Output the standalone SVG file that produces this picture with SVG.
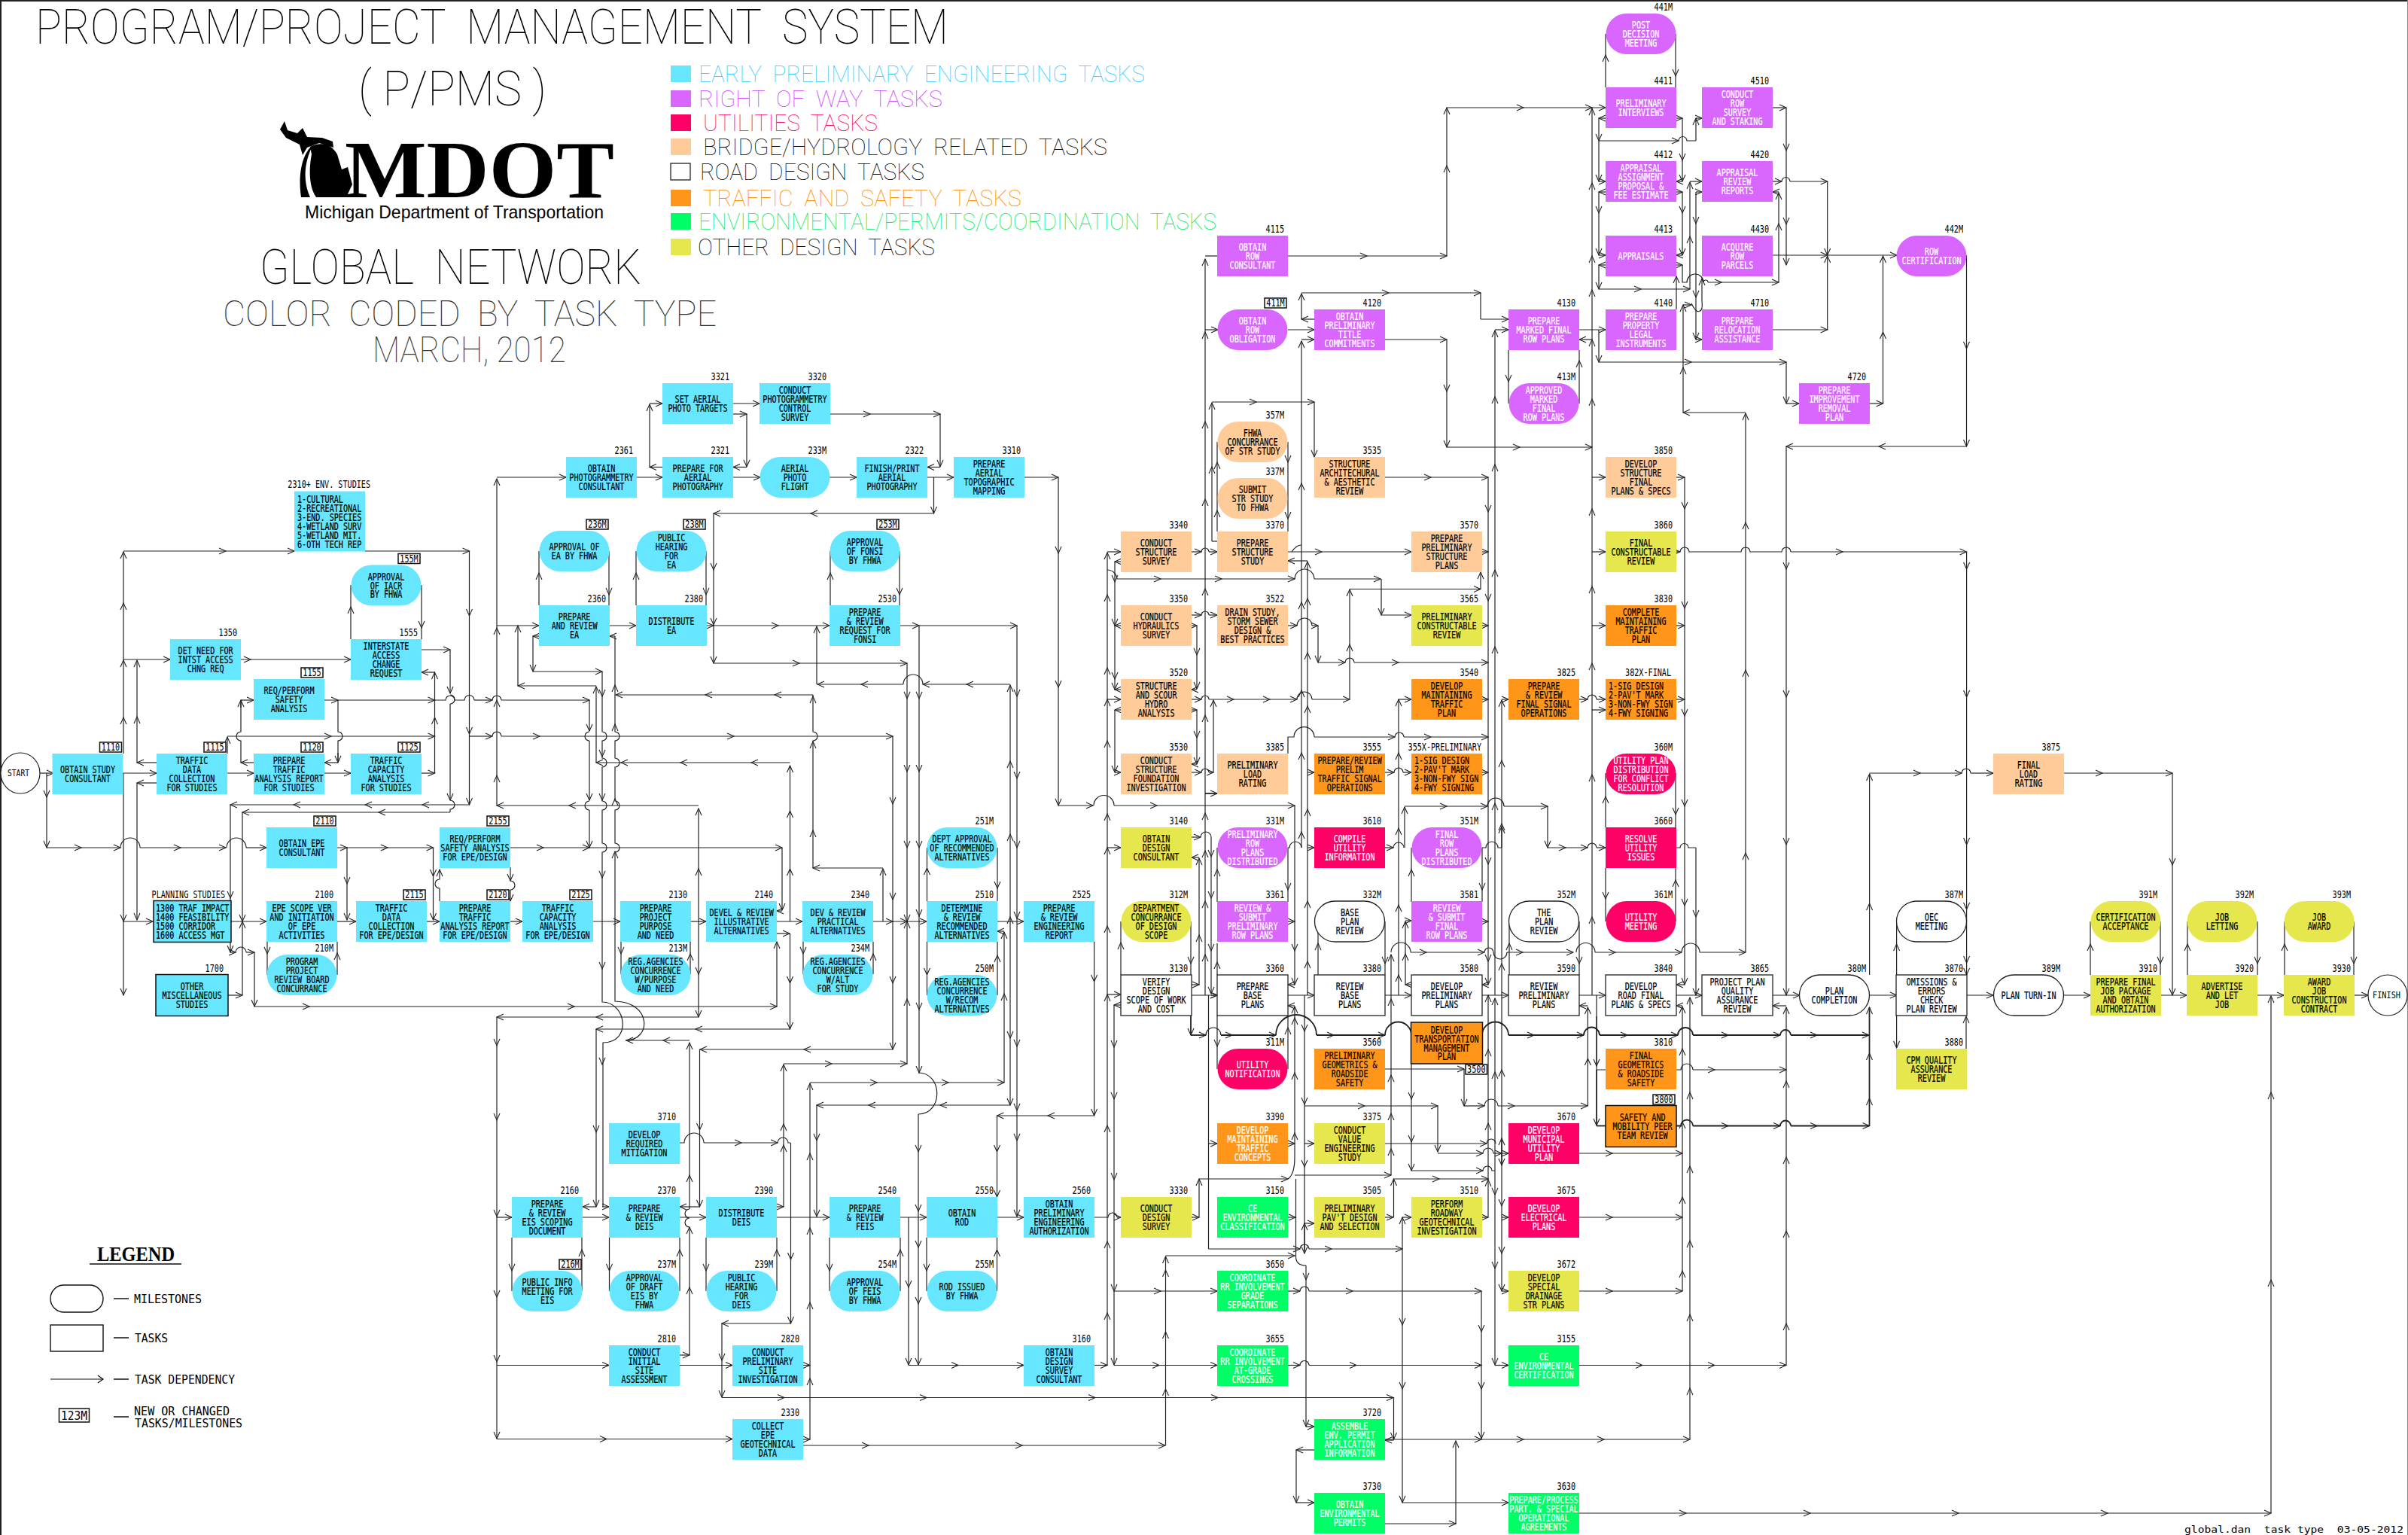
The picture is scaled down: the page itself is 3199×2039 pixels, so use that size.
<svg xmlns="http://www.w3.org/2000/svg" width="3199" height="2039" viewBox="0 0 3199 2039">
<style>
text{font-family:"DejaVu Sans Mono","Liberation Mono",monospace}
.t,.l,.g{font-size:13.5px;transform-box:fill-box;transform:scaleX(.75)}
.t,.g{text-anchor:middle;transform-origin:50% 50%}
.t{fill:#000;stroke:#000;stroke-width:.2}
.w .t{fill:#fff;stroke:#fff}
.l{text-anchor:end;transform-origin:100% 50%;fill:#000;stroke:none}
.g{fill:#000;stroke:none}
.tl{text-anchor:start;transform-origin:0 50%}
.b{fill:#66e6ff}.p{fill:#d966ff}.r{fill:#ff0066}.f{fill:#ffcc99}.o{fill:#ff9619}.e{fill:#00ff66}.y{fill:#e6e64d}
.k{fill:#fff;stroke:#222;stroke-width:1.3}
.d{stroke:#111;stroke-width:1.5}
#c path{fill:none;stroke:#222;stroke-width:1.2;marker-mid:url(#h);marker-end:url(#h)}
#c .n{marker:none}
#c .m{marker-end:none}
#c .v{stroke-width:1.8}
.h{font-family:Roboto,"Liberation Sans",sans-serif;font-weight:100;white-space:pre}
.s{font-size:16px;fill:#000}
</style>
<defs>
<marker id="h" markerUnits="userSpaceOnUse" markerWidth="12" markerHeight="12" refX="10" refY="6" orient="auto"><path d="M1 2L10 6L1 10" fill="none" stroke="#222" stroke-width="1.1"/></marker>
<rect id="r" x="-47" y="-27" width="94" height="54"/>
<rect id="m" x="-46.5" y="-27" width="93" height="54" rx="27" ry="27"/>
<rect id="g" x="16" y="-42" width="29" height="13" fill="#fff" stroke="#111" stroke-width="1.5"/>
</defs>
<rect width="3199" height="2039" fill="#fff"/>
<path d="M0 1H3199M1 0V2039" stroke="#222" stroke-width="2" fill="none"/><path d="M3198.500 0V2039" stroke="#888" fill="none"/>

<g id="title">
<text class="h" x="47" y="58" font-size="65" textLength="1213" lengthAdjust="spacingAndGlyphs">PROGRAM/PROJECT  MANAGEMENT  SYSTEM</text>
<text class="h" x="476" y="140" font-size="65" textLength="250" lengthAdjust="spacingAndGlyphs">( P/PMS )</text>
<path d="M378 161L382 173L395 177L402 170L408 182L428 183L442 188L443 196L424 190L408 196L402 206L398 192L380 183L372 172Z" fill="#000"/>
<path d="M412 195C425 188 440 190 448 205L454 225L462 222L468 245L460 262H420C408 245 412 215 414 205Z" fill="#000"/>
<path d="M400 262C396 235 400 205 416 192C404 215 402 240 412 262Z" fill="#000"/>
<text x="458" y="262" font-size="108" font-weight="700" textLength="358" lengthAdjust="spacingAndGlyphs" style="font-family:'Liberation Serif',serif">MDOT</text>
<text x="405" y="290" font-size="24" textLength="397" lengthAdjust="spacingAndGlyphs" style="font-family:'Liberation Sans',sans-serif">Michigan  Department of Transportation</text>
<text class="h" x="345" y="377" font-size="65" textLength="507" lengthAdjust="spacingAndGlyphs">GLOBAL  NETWORK</text>
<text class="h" x="296" y="433" font-size="48" textLength="656" lengthAdjust="spacingAndGlyphs" fill="#333">COLOR  CODED  BY  TASK  TYPE</text>
<text class="h" x="495" y="481" font-size="48" textLength="257" lengthAdjust="spacingAndGlyphs" fill="#333">MARCH, 2012</text>
</g>
<g id="colorkey">
<rect class="b" x="891" y="87" width="27" height="22"/><text class="h" x="928" y="109" font-size="31" textLength="593" lengthAdjust="spacingAndGlyphs" fill="#33ccff">EARLY  PRELIMINARY  ENGINEERING  TASKS</text>
<rect class="p" x="891" y="120" width="27" height="22"/><text class="h" x="928" y="142" font-size="31" textLength="324" lengthAdjust="spacingAndGlyphs" fill="#cc44ff">RIGHT  OF  WAY  TASKS</text>
<rect class="r" x="891" y="152" width="27" height="22"/><text class="h" x="934" y="174" font-size="31" textLength="232" lengthAdjust="spacingAndGlyphs" fill="#ff0066">UTILITIES  TASKS</text>
<rect class="f" x="891" y="184" width="27" height="22"/><text class="h" x="934" y="206" font-size="31" textLength="537" lengthAdjust="spacingAndGlyphs">BRIDGE/HYDROLOGY  RELATED  TASKS</text>
<rect class="k" x="891" y="217" width="26" height="22"/><text class="h" x="930" y="239" font-size="31" textLength="298" lengthAdjust="spacingAndGlyphs">ROAD  DESIGN  TASKS</text>
<rect class="o" x="891" y="252" width="27" height="22"/><text class="h" x="934" y="274" font-size="31" textLength="423" lengthAdjust="spacingAndGlyphs" fill="#ff8c00">TRAFFIC  AND  SAFETY  TASKS</text>
<rect class="e" x="891" y="283" width="27" height="22"/><text class="h" x="928" y="305" font-size="31" textLength="688" lengthAdjust="spacingAndGlyphs" fill="#00ee60">ENVIRONMENTAL/PERMITS/COORDINATION  TASKS</text>
<rect class="y" x="891" y="317" width="27" height="22"/><text class="h" x="927" y="339" font-size="31" textLength="315" lengthAdjust="spacingAndGlyphs">OTHER  DESIGN  TASKS</text>
</g>
<g id="legend">
<text x="129" y="1675" font-size="27" font-weight="700" textLength="103" lengthAdjust="spacingAndGlyphs" style="font-family:'Liberation Serif',serif">LEGEND</text>
<path d="M119 1679H241M151 1725H171M151 1777H171M151 1832H171M151 1882H171" stroke="#111" stroke-width="1.3" fill="none"/>
<rect x="67" y="1707" width="70" height="36" rx="18" fill="#fff" stroke="#111" stroke-width="1.4"/>
<rect x="67" y="1760" width="70" height="35" fill="#fff" stroke="#111" stroke-width="1.4"/>
<path d="M67 1832H137M130 1827L137 1832L130 1837" stroke="#111" stroke-width="1.2" fill="none"/>
<rect x="78.500" y="1871" width="40" height="18" fill="#fff" stroke="#111" stroke-width="1.5"/>
<text class="s" x="81" y="1886" textLength="35" lengthAdjust="spacingAndGlyphs">123M</text>
<text class="s" x="178" y="1731" textLength="90" lengthAdjust="spacingAndGlyphs">MILESTONES</text>
<text class="s" x="179" y="1783" textLength="44" lengthAdjust="spacingAndGlyphs">TASKS</text>
<text class="s" x="179" y="1838" textLength="133" lengthAdjust="spacingAndGlyphs">TASK DEPENDENCY</text>
<text class="s" x="178" y="1880" textLength="127" lengthAdjust="spacingAndGlyphs">NEW OR CHANGED</text>
<text class="s" x="179" y="1896" textLength="143" lengthAdjust="spacingAndGlyphs">TASKS/MILESTONES</text>
<text x="2902" y="2036" font-size="13" textLength="291" lengthAdjust="spacingAndGlyphs" style="white-space:pre">global.dan  task type  03-05-2012</text>
</g>

<g id="c">
<path d="M53 1027H71"/><path d="M62 1027V1059V1126"/><path d="M62 1126H108H160"/><path class="n" d="M160 1126a13 13 0 0 1 26 0"/><path d="M186 1126H240H300"/><path class="n" d="M301 1126a13 13 0 0 1 26 0"/><path d="M327 1126H354"/>
<path d="M163 1027H208"/><path d="M164 1001V953V877V801V733"/><path d="M164 732H300H391"/><path d="M485 732H623.5"/><path d="M623.5 732V818V975V1069"/><path d="M164 1027V1224V1322"/><path d="M164 876H226"/><path d="M320 876H333H466"/><path d="M182 1013V952V877"/><path d="M208 1013H182"/><path d="M208 1040H182"/><path d="M182 1040V1222"/><path d="M164 1224H203"/><path d="M306 1224H354"/><path d="M448 1224H473"/><path d="M567 1224H584"/><path d="M678 1224H694"/>
<path d="M302 1027H337"/><path d="M431 1027H466"/><path d="M560 1027H577.500"/><path d="M302 1001V979"/><path d="M302 978H440H577.500"/>
<path d="M337 1013H320"/><path class="n" d="M320 1013V984a6 6 0 0 1 0-12V930"/><path d="M320 940V930"/><path d="M320 930H337"/><path d="M431 930H449H577.500"/><path class="n" d="M449 930V972a6 6 0 0 1 0 12V1013"/><path d="M449 1000V1013"/><path d="M449 1013H431"/>
<path d="M577.500 1027V953V893"/><path d="M577.500 893H560"/><path d="M560 863H598"/><path d="M598 863V921"/><path class="n" d="M598 923a6 6 0 0 1 0 12"/><path d="M598 935V1063"/><path class="n" d="M598 1063a6 6 0 0 1 0 12V1079"/><path d="M598 1079H503H322"/><path d="M322 1079V1224"/><path d="M303 1322H322"/><path d="M322 1322V1224"/>
<path class="n" d="M577 930H592a6 6 0 0 1 12 0H617a6.500 6.500 0 0 1 13 0"/><path d="M630 930H654"/><path class="n" d="M654 930a6 6 0 0 1 12 0"/><path d="M666 930H783"/><path d="M783 930V971"/><path class="n" d="M783 972a6 6 0 0 0 0 12"/><path d="M783 984V1063"/><path class="n" d="M783 1064a6 6 0 0 0 0 12"/><path d="M783 1076V1126"/>
<path d="M623.500 978H654"/><path class="n" d="M654 978a6 6 0 0 1 12 0"/><path d="M666 978H717H975H1186"/><path d="M1186 978V1068V1195V1306V1394"/><path d="M1186 1394H1068H930"/><path d="M929.500 1394V1501V1603"/><path d="M929.500 1603H903"/>
<path d="M928 1070H756H660"/><path d="M660 1070V1030V930V834V636"/><path d="M660 634H752"/><path d="M660 831H716"/><path d="M792 1013V912"/><path d="M792 911H688"/><path d="M688 911V831"/><path d="M716 845H708"/><path d="M708 845V892"/><path d="M708 892H800"/>
<path class="n" d="M800 892V972a6 6 0 0 1 0 12V1007a6 6 0 0 1 0 12V1064a6 6 0 0 1 0 12V1120a6 6 0 0 1 0 12V1331C832 1331 840 1385 801 1385V1603"/><path d="M800 924V925"/><path d="M800 1004V1005"/><path d="M800 1062V1063"/><path d="M800 1165V1166"/><path d="M800 1286V1287"/><path d="M800 1413V1414"/><path d="M800 1603H809"/>
<path d="M916 1800V1710V1630"/><path class="n" d="M916 1630a6 6 0 0 1 0-12a6 6 0 0 1 0-12"/><path d="M916 1606V1561V1385"/><path d="M916 1382H881H832"/><path class="n" d="M831 1382C866 1382 866 1331 817 1330V1132a6 6 0 0 0 0-12V1076a6 6 0 0 0 0-12V1019a6 6 0 0 0 0-12V984a6 6 0 0 0 0-12V845"/><path d="M817 1132V1131"/><path d="M817 1062V1061"/><path d="M817 963V962"/><path d="M817 911V910"/><path d="M817 845H810"/>
<path d="M1080 923H1029H937H818"/><path d="M1173 1224V1154"/><path d="M1173 1153H1080"/><path class="n" d="M1080 1153V984a6 6 0 0 0 0-12V923"/><path d="M1080 1104V1103"/><path d="M1080 986V985"/><path d="M1080 926V925"/>
<path d="M1049.500 1224V1154V1077V1017"/><path d="M1049.500 1013H998H904H825H792"/><path d="M1032 1240H1049"/><path d="M1049.500 1240V1306V1367"/><path d="M1049.500 1367H924H792"/><path d="M792 1367V1504V1603"/><path d="M792 1603H774"/>
<path d="M928 1224V1154V1074"/><path d="M928 1224V1294V1351"/><path d="M928 1351H792H660"/><path d="M306 1265H313"/><path class="n" d="M313 1265a7 7 0 0 1 14 0"/><path d="M327 1265H338"/><path d="M338 1265V1337"/><path d="M338 1337H411H763H1032"/><path d="M1032 1337V1251"/><path d="M623.500 1069H561H485H390H306"/><path d="M306 1069V1193V1265"/>
<path d="M448 1126H461H515H575.500"/><path d="M461 1126V1174V1222"/><path d="M575.500 1126V1164V1222"/><path class="n" d="M584 1197V1180a6 6 0 0 1 0-12V1156"/><path d="M584 1158V1155"/><path d="M678 1152V1170"/><path class="n" d="M678 1170a6 6 0 0 1 0 12"/><path d="M678 1182V1197"/><path d="M678 1126H722H783"/><path d="M783 1126H1039"/><path d="M1039 1126V1209"/><path d="M1039 1210H1032"/>
<path d="M788 1224H824"/><path d="M918 1224H938"/><path d="M1032 1224H1066"/><path d="M1160 1224H1186H1205H1231"/><path d="M1325 1224H1360"/>
<path d="M846 634H880"/><path d="M974 634H1010"/><path d="M1102 634H1138"/><path d="M1232 634H1267"/><path d="M974 536H1009"/><path d="M880 620.500H863"/><path d="M863 620.500V537"/><path d="M863 536H880"/><path d="M974 550H992"/><path d="M992 550V620"/><path d="M992 620.500H974"/><path d="M1103 550H1156H1249"/><path d="M1249 550V620"/><path d="M1249 620.500H1232"/>
<path d="M1240.500 634V682"/><path d="M1240.500 682H1077H948"/><path d="M948 682V757V830V881"/><path d="M948 881H1062H1205"/><path d="M1205 881V928V1025V1126V1224"/><path d="M1205 1413V1327V1224"/>
<path d="M810 831H845"/><path d="M939 831H948H1034H1102"/><path d="M1196 831H1221H1351"/><path d="M1221 831V928V1025V1126V1217V1341V1425"/><path class="n" d="M1220 1425C1253 1425 1253 1480 1220 1480"/><path d="M1220 1480V1530V1609V1657V1732V1813"/><path d="M1207 1813.500H1273H1360"/><path d="M1207 1617V1710V1813"/><path d="M1351 831V925V1034V1126V1220V1390V1475V1515V1616"/>
<path d="M1342 909H1284H1226"/><path class="n" d="M1226 909a13 13 0 0 0-26 0"/><path d="M1200 909H1144H1086"/><path d="M1085 909V832"/><path d="M1342 1224V1218V1108V1011V910"/><path d="M1342 1224V1379V1468"/><path d="M1342 1468H1249H1154H1085"/><path d="M1085 1468V1515V1616"/><path d="M1334 1438V1320V1238"/><path d="M1334 1237H1325"/>
<path d="M1076 1438H1165H1260H1334"/><path d="M1076 1912V1831V1730V1631V1532V1439"/><path d="M1067 1912H1076"/><path d="M1067 1813.500H1076"/><path d="M1041 1603V1521V1493V1414"/><path d="M1032 1603H1041"/><path d="M1041 1413H1105H1205"/>
<path class="n" d="M903 1518H909a13 13 0 0 1 26 0"/><path d="M935 1518H985H1033"/><path class="n" d="M1033 1518a7 7 0 0 1 14 0H1050"/><path d="M1050.500 1518V1673V1758"/><path d="M1050.500 1758H959"/><path d="M959 1758V1807V1856"/><path d="M959 1856.500H1042H1231H1455H1618H1851"/><path d="M1851.500 1856V1912"/><path d="M1851.500 1913H1840"/><path d="M903 1813.500H973"/><path d="M903 1800H916"/>
<path d="M660 1351V1389V1488V1616V1723V1809V1911"/><path d="M660 1617H680"/><path d="M774 1617H809"/><path d="M903 1617H938"/><path d="M1032 1617H1102"/><path d="M1196 1617H1231"/><path d="M1324 1617H1360"/><path class="n" d="M1454 1617H1472a6 6 0 0 1 12 0"/><path d="M1484 1617H1489"/><path d="M660 1813.500H809"/><path d="M660 1911.500H806H973"/>
<path d="M1453.600 1251V1304V1482"/><path d="M1453.600 1482H1392H1324.500"/><path d="M1324.500 1482V1530V1590"/>
<path d="M1361 634H1406"/><path d="M1406 634V735V913V1070"/><path d="M1406 1070H1452"/><path class="n" d="M1453 1070a13 13 0 0 1 27 0"/><path d="M1480 1070H1537H1720"/><path d="M1720 1070V1263V1308"/><path d="M1720 1308H1711"/>

<path class="m" d="M466 849V806V777"/><path class="m" d="M560 777V834V849"/><path class="m" d="M716 804V761V732"/><path class="m" d="M809 732V790V804"/><path class="m" d="M845 804V761V732"/><path class="m" d="M938 732V790V804"/><path class="m" d="M1103 804V761V732"/><path class="m" d="M1195 732V790V804"/><path class="m" d="M825 1251V1267V1294"/><path class="m" d="M917 1294V1267V1251"/><path class="m" d="M1067 1251V1267V1294"/><path class="m" d="M1160 1294V1267V1251"/><path class="m" d="M355 1251V1267V1295"/><path class="m" d="M448 1295V1266V1251"/><path class="m" d="M1231.500 1197V1153V1126"/><path class="m" d="M1325 1126V1180V1197"/><path class="m" d="M1231.500 1251V1295V1322"/><path class="m" d="M1325 1322V1269V1251"/>
<path class="m" d="M680 1644V1688V1715"/><path class="m" d="M773 1715V1660V1644"/><path class="m" d="M809.500 1644V1688V1715"/><path class="m" d="M903 1715V1660V1644"/><path class="m" d="M938 1644V1688V1715"/><path class="m" d="M1032 1715V1660V1644"/><path class="m" d="M1102 1644V1688V1715"/><path class="m" d="M1196 1715V1660V1644"/><path class="m" d="M1231 1644V1688V1715"/><path class="m" d="M1324.500 1715V1660V1644"/>
<path class="m" d="M1617 706V678V614V587"/><path class="m" d="M1711 587V614V689V706"/><path class="m" d="M1617 1198V1155V1126"/><path class="m" d="M1711 1126V1182V1198"/><path class="m" d="M1875 1198V1155V1126"/><path class="m" d="M1969 1126V1182V1198"/><path class="m" d="M1617 1295V1278V1253"/><path class="m" d="M1617 1349V1390V1420"/><path class="m" d="M1711 1420V1365V1349"/><path class="m" d="M1751 1295V1253V1224"/><path class="m" d="M1840 1224V1280V1295"/><path class="m" d="M2005 1295V1253V1224"/><path class="m" d="M2098 1224V1280V1295"/><path class="m" d="M1489 1295V1252V1224"/><path class="m" d="M1582 1224V1280V1295"/>
<path class="m" d="M2133 1099V1058V1027"/><path class="m" d="M2226 1027V1082V1099"/><path class="m" d="M2133 1153V1194V1224"/><path class="m" d="M2226 1224V1169V1153"/><path class="m" d="M2004 465V507V536"/><path class="m" d="M2098 536V479V465"/><path class="m" d="M2133 116V73V45"/><path class="m" d="M2226 45V101V116"/><path class="m" d="M2519.600 1295V1254V1224"/><path d="M2519.600 1349V1392"/><path d="M2612 1393V1350"/><path class="m" d="M2777 1295V1254V1224"/><path class="m" d="M2870 1224V1280V1295"/><path class="m" d="M2906 1295V1254V1224"/><path class="m" d="M2999 1224V1280V1295"/><path class="m" d="M3035 1295V1254V1224"/><path class="m" d="M3127 1224V1280V1295"/>

<path d="M1471 1813.500V1744V1649V1495V1321V1230V1126V1081V984V929V887V790V734"/><path d="M1454 1813.500H1471"/><path d="M1471 733H1489"/><path d="M1471 929H1489"/><path d="M1471 1126H1489"/><path d="M1471 1321H1489"/>
<path d="M1489 746H1481"/><path d="M1481 746V773V831V902V916"/><path d="M1489 916H1481"/><path d="M1489 831H1481"/><path d="M1489 943H1481"/><path d="M1481 943V1026"/><path d="M1481 1026H1489"/>
<path class="n" d="M1471 757a13 13 0 0 1 13 12"/><path d="M1484 769H1542H1623H1720"/><path class="n" d="M1720 769a13 13 0 0 1 26 0"/><path d="M1746 769H1834"/><path d="M1835 769V817"/><path d="M1835 817H1875"/>
<path d="M1583 733H1596"/><path class="n" d="M1596 733a5 5 0 0 1 10 0"/><path d="M1606 733H1617"/><path d="M1601 1322V1268V1197V1130V1080V950V782V663V560V441V344"/><path class="n" d="M1601 340H1617"/><path d="M1601 438H1618"/><path class="v" d="M1601 1054H1617"/>
<path class="n" d="M1617 719H1610"/><path d="M1610 719V620V535"/><path d="M1610 534H1669H1746"/><path d="M1746 534V607"/><path d="M1746 424H1729"/><path d="M1729 424V390"/><path d="M1729 389H1845H1967"/><path class="n" d="M1967 389V424"/><path d="M1967 424H2004"/><path d="M1711 438H1746"/><path d="M1729 451H1746"/>
<path class="n" d="M1711 1126H1713a8 8 0 0 1 16 0"/><path d="M1729 1126V1105V1000V917V800V642V453"/><path class="n" d="M1716 733Q1722 724 1729 724"/><path d="M1711 733H1756H1875"/><path d="M1737 745H1711"/><path d="M1737 1322V1277V1197V1075V938V867V795V746"/>
<path d="M1711 831H1723"/><path class="n" d="M1723 831a10 10 0 0 1 20 0"/><path d="M1743 831H1751"/><path d="M1751 831V880"/><path d="M1751 880H1787"/><path class="n" d="M1787 880a6 6 0 0 1 12 0"/><path d="M1799 880H1858H1977"/><path d="M1793 929V856V783"/><path d="M1793 782.500H1967"/><path d="M1967 782V760"/>
<path d="M1583 929H1596"/><path class="n" d="M1596 929a5 5 0 0 1 10 0"/><path d="M1606 929H1639H1687H1723"/><path class="n" d="M1723 929a10 10 0 0 1 20 0"/><path d="M1743 929H1793"/><path d="M1583 817H1596"/><path class="n" d="M1596 817a5 5 0 0 1 10 0"/><path d="M1606 817H1617"/>
<path d="M1583 831H1590"/><path d="M1590 831V870V915"/><path d="M1590 916H1583"/><path d="M1583 943H1590"/><path d="M1590 943V980V1015"/><path d="M1590 1015H1583"/><path d="M1583 1026H1596"/><path class="n" d="M1596 1026a5 5 0 0 1 10 0"/><path d="M1606 1026H1612"/><path d="M1612 1026V930"/>
<path class="n" d="M1711 1001V979H1719a13 13 0 0 1 27 0"/><path d="M1746 979H1853"/><path class="n" d="M1853 979a6 6 0 0 1 12 0"/><path d="M1865 979H1901H1977"/><path d="M1737 1026H1746"/><path d="M1840 1026H1852"/><path class="n" d="M1852 1026a6 6 0 0 1 12 0"/><path d="M1864 1026H1875"/><path d="M1858 1322V1295V1202V1100V1000V929"/><path d="M1858 929H1875"/>
<path d="M1840 634H1901H1977"/><path d="M1977 634V680V798V1148V1277V1308"/><path d="M1977 1308H1969"/><path d="M1969 733H1977"/><path d="M1969 831H1977"/><path d="M1969 929H1977"/><path d="M1969 1026H1977"/><path d="M1977 1617V1567V1492V1394V1322"/><path d="M1969 1617H1977"/>
<path d="M1986 1322V1067V859V757V617V527V439"/><path d="M1986 438H2004"/><path d="M1986 1430V1424V1326"/><path d="M1986 1430V1587V1685V1813"/><path d="M1986 1813.500H2004"/><path d="M1995 1512V1421V1280V1094V1010V930"/><path d="M1995 929H2004"/><path class="v" d="M1995 1530V1512"/><path class="v" d="M1995 1530V1548"/><path d="M1995 1548V1602V1665V1715"/><path d="M1995 1715H2004"/><path d="M1995 1617H2004"/><path d="M1995 1532H2004"/>
<path d="M1866 1126V1072"/><path d="M1866 1071H1922H1976"/><path class="n" d="M1976 1071a11 11 0 0 1 22 0"/><path d="M1998 1071H2056"/><path d="M2056 1071V1126"/><path d="M2056 1126H2080H2109"/><path class="n" d="M2109 1126a6 6 0 0 1 12 0"/><path d="M2121 1126H2133"/><path d="M1840 1126H1851"/><path class="n" d="M1851 1126a7 7 0 0 1 14 0"/><path class="n" d="M1969 1126H1974a8 8 0 0 1 16 0H1995"/><path d="M1995 1126V1098"/><path d="M1737 1126H1746"/>
<path d="M1711 340H1816H1922"/><path d="M1922 340V220V143"/><path d="M1922 143H2024H2115H2133"/><path d="M1840 451H1922"/><path d="M1922 451V520V594"/><path d="M1922 594H2019H2115"/><path d="M2115 1322V1218V1029V881V779V676V530V451V385V340V243V144"/><path d="M2115 451H2098"/><path d="M2098 438H2133"/><path d="M2115 634H2133"/><path d="M2115 733H2133"/><path d="M2115 831H2133"/><path d="M2098 929H2109"/><path class="n" d="M2109 929a6 6 0 0 1 12 0"/><path d="M2121 929H2133"/><path d="M2115 943H2133"/>
<path d="M2098 1322H2133"/><path d="M1969 1322H2004"/><path d="M1840 1322H1875"/><path d="M1711 1322H1746"/><path d="M1583 1322H1617"/>

<path d="M2133 157H2124"/><path d="M2124 157V187"/><path d="M2124 187H2230"/><path class="n" d="M2230 187a5.500 5.500 0 0 1 11 0H2253"/><path d="M2253 187V157"/><path d="M2253 157H2261"/><path d="M2124 187V241"/><path d="M2124 241H2133"/><path d="M2133 255H2124"/><path d="M2124 255V283V339"/><path d="M2124 339H2133"/><path d="M2133 352H2124"/><path d="M2124 352V384"/><path d="M2124 384H2180H2245"/><path d="M2245 384V314V242"/><path d="M2245 241H2261"/>
<path d="M2124 438V481"/><path d="M2124 481H2247H2373"/><path d="M2373 481V536"/><path d="M2373 536H2390"/><path d="M2484 536H2501.500"/><path d="M2501.500 536V441V340"/><path d="M2355 339H2427.700H2520"/><path d="M2355 241H2367"/><path class="n" d="M2367 241a5.500 5.500 0 0 1 11 0"/><path d="M2378 241H2427.700"/><path d="M2427.700 241V339"/><path d="M2355 438H2427.700"/><path d="M2427.700 438V340"/>
<path d="M2355 143H2373"/><path d="M2373 143V200V298V352"/><path d="M2363 255H2355"/><path d="M2363 375V297V256"/><path d="M2253 255V297V395V451"/><path d="M2253 255H2261"/><path d="M2253 451H2261"/>
<path d="M2227 157H2235"/><path d="M2235 157V213V241"/><path d="M2235 241H2227"/><path d="M2227 255H2235"/><path d="M2235 255V283V339"/><path d="M2235 339H2227"/><path d="M2227 352H2235"/><path class="n" d="M2235 352V375H2241a11 11 0 0 1 22 0a3 3 0 0 1 6 0"/><path d="M2269 375H2287H2363"/><path d="M2227 411V367"/>
<path d="M2236 548V488V405"/><path d="M2236 405H2247"/><path class="n" d="M2247 403C2255 420 2263 415 2261 400"/><path d="M2261 400V370"/><path d="M2319 548H2236"/><path d="M2319 1265V1133V890V694V549"/>
<path d="M2612.500 339V463V593"/><path d="M2612.500 593H2496H2373"/><path d="M2373 593V756V926V1122V1322"/><path d="M2227 733H2232"/><path class="n" d="M2232 733a6 6 0 0 1 12 0H2313a6 6 0 0 1 12 0H2367a6 6 0 0 1 12 0"/><path d="M2379 733H2448H2612.600"/><path d="M2612.600 733V756V926V1122V1208V1279V1295"/>
<path d="M2483.600 1295V1200V1028"/><path d="M2483.600 1027H2551H2606"/><path class="n" d="M2606 1027a6 6 0 0 1 12 0"/><path d="M2618 1027H2648"/><path d="M2742 1027H2793H2886"/><path d="M2886 1027V1149V1322"/>
<path d="M2227 1322H2261"/><path d="M2355 1322H2391"/><path d="M2484 1322H2520"/><path d="M2612.500 1322H2648"/><path d="M2741 1322H2777"/><path d="M2871 1322H2905"/><path d="M2999 1322H3034"/><path d="M3128 1322H3146"/>
<path d="M2098 2010H2240H2405H2602H2800H3017"/><path d="M3017 2010V1700V1451V1323"/><path d="M2109.400 1469V1406V1338"/><path d="M2109.400 1336H2098"/>
<path d="M2227 634H2238"/><path d="M2238 634V676V808V951V1071V1203V1308"/><path d="M2238 1308H2227"/><path d="M2227 831H2238"/><path d="M2227 929H2238"/><path class="n" d="M2227 1126H2232a5.500 5.500 0 0 1 11 0H2253"/><path d="M2253 1126V1218V1322"/>
<path class="n" d="M2121 1322V1421H2133"/><path d="M2121 1350V1416"/><path class="v" d="M2121 1421V1495"/><path class="n v" d="M2121 1495.500H2133"/>
<path class="n" d="M2227 1421H2233a8 8 0 0 1 16 0"/><path d="M2249 1421H2278H2373"/><path class="n v" d="M2227 1495.500H2233a8 8 0 0 1 16 0"/><path class="v" d="M2249 1495.500H2296H2365"/><path class="n v" d="M2365 1495.500a7 7 0 0 1 14 0"/><path class="v" d="M2379 1495.500H2414H2483.500"/><path class="v" d="M2483.500 1495.500V1459V1399V1338"/>
<path d="M2098 1532H2142H2235"/><path d="M2098 1617H2142H2235"/><path d="M2098 1715H2142H2235"/><path d="M2235 1715V1688V1590V1490V1393V1337"/><path d="M2235 1336H2227"/><path d="M1968 1912H2024H2131H2245"/><path d="M2245 1912V1844V1746V1648V1549V1451V1325"/><path d="M2098 1813.500H2182H2278H2373"/><path d="M2373 1813.500V1758V1635V1537V1436V1338"/><path d="M2373 1336H2355"/>

<path d="M1848 1561V1526V1479V1428V1327V1268"/><path class="n" d="M1848 1265a13 13 0 0 1 26 0"/><path d="M1874 1265H1895H1972"/><path class="n" d="M1972 1265a6 6 0 0 1 12 0a9 9 0 0 0 18 0"/><path d="M2002 1265H2023H2090"/><path class="n" d="M2094 1265a12.500 12.500 0 0 1 25 0"/><path d="M2119 1265H2146H2234"/><path class="n" d="M2234 1265a12 12 0 0 1 24 0"/><path d="M2258 1265H2319"/>
<path class="v" d="M1582 1349V1375"/><path class="v" d="M1582 1375H1602"/><path class="n" d="M1602 1375a10 10 0 0 1 20 0"/><path class="v" d="M1622 1375H1637H1695"/><path class="n v" d="M1695 1375a27 27 0 0 1 54 0"/><path class="v" d="M1749 1375H1772H1840"/><path class="n v" d="M1840 1375a17.500 17.500 0 0 1 35 0"/><path class="n v" d="M1969 1375a17.500 17.500 0 0 1 35 0"/><path class="v" d="M2004 1375H2038H2104"/><path class="n v" d="M2104 1375a10.500 10.500 0 0 1 21 0"/><path class="v" d="M2125 1375H2162H2229"/><path class="n v" d="M2229 1375a10 10 0 0 1 20 0"/><path class="v" d="M2249 1375H2296H2365"/><path class="n v" d="M2365 1375a7 7 0 0 1 14 0"/><path class="v" d="M2379 1375H2414H2483"/>
<path d="M1840 1420H1945"/><path d="M1945 1420V1469"/><path d="M1945 1469H1972"/><path class="n" d="M1972 1469a9 9 0 0 1 18 0"/><path d="M1990 1469H2012H2109"/><path d="M1875 1413V1460V1517V1555"/><path d="M1875 1555H1970"/><path class="n" d="M1970 1555a6 6 0 0 1 12 0H1986"/><path d="M1851.500 1617V1566"/><path d="M1851.500 1566H1912H1977"/><path d="M1840 1617H1851"/>
<path d="M1840 1519H1975"/><path class="n" d="M1975 1519a6 6 0 0 1 12 0"/><path d="M1733 1469H1813H1910"/><path d="M1910 1469V1530"/><path d="M1910 1532H1970"/><path class="n" d="M1970 1532a7 7 0 0 1 14 0"/><path d="M1984 1532H1995"/><path d="M1733 1322V1370V1467V1550V1665"/>
<path d="M1583 1112H1595"/><path class="n" d="M1595 1112a7 7 0 0 1 14 0"/><path d="M1609 1112V1138V1193V1263V1320"/><path d="M1609 1322H1617"/><path d="M1593 1308V1242V1140"/><path d="M1583 1308H1593"/><path d="M1593 1139H1583"/><path class="n" d="M1605.500 1322V1659"/><path d="M1605.500 1659H1727"/><path class="n" d="M1727 1659a6 6 0 0 1 12 0"/><path d="M1739 1659H1769H1863"/><path d="M1863 1659V1760V1845V1996"/><path d="M1863 1996H2004"/><path d="M1863 1659V1617"/><path d="M1863 1617H1875"/>
<path d="M1583 1617H1593"/><path d="M1593 1617V1566"/><path d="M1593 1566H1711"/><path class="n" d="M1711 1566Q1720 1560 1720 1537"/><path d="M1720 1537V1505V1425V1352V1337"/><path d="M1720 1336H1711"/><path d="M1720 1561H1848"/><path d="M1711 1519H1720"/><path d="M1711 1224H1720"/><path d="M1733 1519H1746"/><path d="M1605 1519H1617"/><path d="M1711 1617H1721"/>
<path class="n" d="M1721.500 1566V1670Q1722 1681 1735 1681"/><path d="M1735 1681V1700V1895"/><path d="M1735 1895H1746"/><path d="M1733 1662V1625"/><path d="M1733 1625H1746"/><path d="M1480 1335V1391V1460V1567V1715V1813"/><path d="M1489 1335H1480"/><path d="M1480 1715H1542H1617"/><path d="M1480 1813.500H1540H1617"/><path d="M1711 1715H1727"/><path class="n" d="M1727 1715a6 6 0 0 1 12 0"/><path d="M1739 1715H1797H1968"/><path d="M1711 1813.500H1727"/><path class="n" d="M1727 1813.500a6 6 0 0 1 12 0"/><path d="M1739 1813.500H1802H1968"/><path d="M1968 1715V1769V1845V1911"/>
<path d="M1067 1920H1154H1358H1548"/><path d="M1548.500 1920V1845V1769V1687V1669"/><path d="M1548.500 1668H1720"/><path d="M1840 1912H1968"/><path d="M1746 1926H1722"/><path d="M1722 1926V1996"/><path d="M1722 1996H1746"/><path d="M1840 2024H1934"/><path d="M1934 2024V1914"/>
<path d="M1867 1308V1267V1224"/><path d="M1867 1223H1875"/><path d="M1875 1308H1867"/><path d="M1969 1224H1977"/>
</g>

<g id="nodes">
<g id="n1110" class="b" transform="translate(116.500 1028)"><use href="#r"/><use href="#g"/><text class="g" x="30.500" y="-31">1110</text><text class="t" y="-1">OBTAIN STUDY<tspan x="0" dy="12">CONSULTANT</tspan></text></g>
<g id="n2310" class="b" transform="translate(438 692.600)"><rect x="-47" y="-40" width="94" height="80"/><text class="l" x="54" y="-45">2310+ ENV. STUDIES</text><text class="t tl" x="-43" y="-25">1-CULTURAL<tspan x="-43" dy="12">2-RECREATIONAL</tspan><tspan x="-43" dy="12">3-END. SPECIES</tspan><tspan x="-43" dy="12">4-WETLAND SURV</tspan><tspan x="-43" dy="12">5-WETLAND MIT.</tspan><tspan x="-43" dy="12">6-OTH TECH REP</tspan></text></g>
<g id="n1350" class="b" transform="translate(273 876)"><use href="#r"/><text class="l" x="42" y="-31">1350</text><text class="t" y="-7">DET NEED FOR<tspan x="0" dy="12">INTST ACCESS</tspan><tspan x="0" dy="12">CHNG REQ</tspan></text></g>
<g id="n155M" class="b" transform="translate(513 777.500)"><use href="#m"/><use href="#g"/><text class="g" x="30.500" y="-31">155M</text><text class="t" y="-7">APPROVAL<tspan x="0" dy="12">OF IACR</tspan><tspan x="0" dy="12">BY FHWA</tspan></text></g>
<g id="n1555" class="b" transform="translate(513 876)"><use href="#r"/><text class="l" x="42" y="-31">1555</text><text class="t" y="-13">INTERSTATE<tspan x="0" dy="12">ACCESS</tspan><tspan x="0" dy="12">CHANGE</tspan><tspan x="0" dy="12">REQUEST</tspan></text></g>
<g id="n1155" class="b" transform="translate(384 929)"><use href="#r"/><use href="#g"/><text class="g" x="30.500" y="-31">1155</text><text class="t" y="-7">REQ/PERFORM<tspan x="0" dy="12">SAFETY</tspan><tspan x="0" dy="12">ANALYSIS</tspan></text></g>
<g id="n1115" class="b" transform="translate(255 1028)"><use href="#r"/><use href="#g"/><text class="g" x="30.500" y="-31">1115</text><text class="t" y="-13">TRAFFIC<tspan x="0" dy="12">DATA</tspan><tspan x="0" dy="12">COLLECTION</tspan><tspan x="0" dy="12">FOR STUDIES</tspan></text></g>
<g id="n1120" class="b" transform="translate(384 1028)"><use href="#r"/><use href="#g"/><text class="g" x="30.500" y="-31">1120</text><text class="t" y="-13">PREPARE<tspan x="0" dy="12">TRAFFIC</tspan><tspan x="0" dy="12">ANALYSIS REPORT</tspan><tspan x="0" dy="12">FOR STUDIES</tspan></text></g>
<g id="n1125" class="b" transform="translate(513 1028)"><use href="#r"/><use href="#g"/><text class="g" x="30.500" y="-31">1125</text><text class="t" y="-13">TRAFFIC<tspan x="0" dy="12">CAPACITY</tspan><tspan x="0" dy="12">ANALYSIS</tspan><tspan x="0" dy="12">FOR STUDIES</tspan></text></g>
<g id="n2110" class="b" transform="translate(401 1126)"><use href="#r"/><use href="#g"/><text class="g" x="30.500" y="-31">2110</text><text class="t" y="-1">OBTAIN EPE<tspan x="0" dy="12">CONSULTANT</tspan></text></g>
<g id="n2155" class="b" transform="translate(631 1126)"><use href="#r"/><use href="#g"/><text class="g" x="30.500" y="-31">2155</text><text class="t" y="-7">REQ/PERFORM<tspan x="0" dy="12">SAFETY ANALYSIS</tspan><tspan x="0" dy="12">FOR EPE/DESIGN</tspan></text></g>
<g id="nplan" class="b" transform="translate(255 1224)"><rect class="d" x="-51" y="-27.500" width="103" height="55"/><text class="l" x="44" y="-31">PLANNING STUDIES</text><text class="t tl" x="-48" y="-13">1300 TRAF IMPACT<tspan x="-48" dy="12">1400 FEASIBILITY</tspan><tspan x="-48" dy="12">1500 CORRIDOR</tspan><tspan x="-48" dy="12">1600 ACCESS MGT</tspan></text></g>
<g id="n2100" class="b" transform="translate(401 1224)"><use href="#r"/><text class="l" x="42" y="-31">2100</text><text class="t" y="-13">EPE SCOPE VER<tspan x="0" dy="12">AND INITIATION</tspan><tspan x="0" dy="12">OF EPE</tspan><tspan x="0" dy="12">ACTIVITIES</tspan></text></g>
<g id="n2115" class="b" transform="translate(520 1224)"><use href="#r"/><use href="#g"/><text class="g" x="30.500" y="-31">2115</text><text class="t" y="-13">TRAFFIC<tspan x="0" dy="12">DATA</tspan><tspan x="0" dy="12">COLLECTION</tspan><tspan x="0" dy="12">FOR EPE/DESIGN</tspan></text></g>
<g id="n2120" class="b" transform="translate(631 1224)"><use href="#r"/><use href="#g"/><text class="g" x="30.500" y="-31">2120</text><text class="t" y="-13">PREPARE<tspan x="0" dy="12">TRAFFIC</tspan><tspan x="0" dy="12">ANALYSIS REPORT</tspan><tspan x="0" dy="12">FOR EPE/DESIGN</tspan></text></g>
<g id="n2125" class="b" transform="translate(741 1224)"><use href="#r"/><use href="#g"/><text class="g" x="30.500" y="-31">2125</text><text class="t" y="-13">TRAFFIC<tspan x="0" dy="12">CAPACITY</tspan><tspan x="0" dy="12">ANALYSIS</tspan><tspan x="0" dy="12">FOR EPE/DESIGN</tspan></text></g>
<g id="n210M" class="b" transform="translate(401 1295)"><use href="#m"/><text class="l" x="42" y="-31">210M</text><text class="t" y="-13">PROGRAM<tspan x="0" dy="12">PROJECT</tspan><tspan x="0" dy="12">REVIEW BOARD</tspan><tspan x="0" dy="12">CONCURRANCE</tspan></text></g>
<g id="n1700" class="b" transform="translate(255 1322)"><rect class="d" x="-48" y="-27.500" width="96" height="55"/><text class="l" x="42" y="-31">1700</text><text class="t" y="-7">OTHER<tspan x="0" dy="12">MISCELLANEOUS</tspan><tspan x="0" dy="12">STUDIES</tspan></text></g>
<g id="n3321" class="b" transform="translate(927 536)"><use href="#r"/><text class="l" x="42" y="-31">3321</text><text class="t" y="-1">SET AERIAL<tspan x="0" dy="12">PHOTO TARGETS</tspan></text></g>
<g id="n3320" class="b" transform="translate(1056 536)"><use href="#r"/><text class="l" x="42" y="-31">3320</text><text class="t" y="-13">CONDUCT<tspan x="0" dy="12">PHOTOGRAMMETRY</tspan><tspan x="0" dy="12">CONTROL</tspan><tspan x="0" dy="12">SURVEY</tspan></text></g>
<g id="n2361" class="b" transform="translate(799 634)"><use href="#r"/><text class="l" x="42" y="-31">2361</text><text class="t" y="-7">OBTAIN<tspan x="0" dy="12">PHOTOGRAMMETRY</tspan><tspan x="0" dy="12">CONSULTANT</tspan></text></g>
<g id="n2321" class="b" transform="translate(927 634)"><use href="#r"/><text class="l" x="42" y="-31">2321</text><text class="t" y="-7">PREPARE FOR<tspan x="0" dy="12">AERIAL</tspan><tspan x="0" dy="12">PHOTOGRAPHY</tspan></text></g>
<g id="n233M" class="b" transform="translate(1056 634)"><use href="#m"/><text class="l" x="42" y="-31">233M</text><text class="t" y="-7">AERIAL<tspan x="0" dy="12">PHOTO</tspan><tspan x="0" dy="12">FLIGHT</tspan></text></g>
<g id="n2322" class="b" transform="translate(1185 634)"><use href="#r"/><text class="l" x="42" y="-31">2322</text><text class="t" y="-7">FINISH/PRINT<tspan x="0" dy="12">AERIAL</tspan><tspan x="0" dy="12">PHOTOGRAPHY</tspan></text></g>
<g id="n3310" class="b" transform="translate(1314 634)"><use href="#r"/><text class="l" x="42" y="-31">3310</text><text class="t" y="-13">PREPARE<tspan x="0" dy="12">AERIAL</tspan><tspan x="0" dy="12">TOPOGRAPHIC</tspan><tspan x="0" dy="12">MAPPING</tspan></text></g>
<g id="n236M" class="b" transform="translate(763 732)"><use href="#m"/><use href="#g"/><text class="g" x="30.500" y="-31">236M</text><text class="t" y="-1">APPROVAL OF<tspan x="0" dy="12">EA BY FHWA</tspan></text></g>
<g id="n2360" class="b" transform="translate(763 831)"><use href="#r"/><text class="l" x="42" y="-31">2360</text><text class="t" y="-7">PREPARE<tspan x="0" dy="12">AND REVIEW</tspan><tspan x="0" dy="12">EA</tspan></text></g>
<g id="n238M" class="b" transform="translate(892 732)"><use href="#m"/><use href="#g"/><text class="g" x="30.500" y="-31">238M</text><text class="t" y="-13">PUBLIC<tspan x="0" dy="12">HEARING</tspan><tspan x="0" dy="12">FOR</tspan><tspan x="0" dy="12">EA</tspan></text></g>
<g id="n2380" class="b" transform="translate(892 831)"><use href="#r"/><text class="l" x="42" y="-31">2380</text><text class="t" y="-1">DISTRIBUTE<tspan x="0" dy="12">EA</tspan></text></g>
<g id="n253M" class="b" transform="translate(1149 732)"><use href="#m"/><use href="#g"/><text class="g" x="30.500" y="-31">253M</text><text class="t" y="-7">APPROVAL<tspan x="0" dy="12">OF FONSI</tspan><tspan x="0" dy="12">BY FHWA</tspan></text></g>
<g id="n2530" class="b" transform="translate(1149 831)"><use href="#r"/><text class="l" x="42" y="-31">2530</text><text class="t" y="-13">PREPARE<tspan x="0" dy="12">&amp; REVIEW</tspan><tspan x="0" dy="12">REQUEST FOR</tspan><tspan x="0" dy="12">FONSI</tspan></text></g>
<g id="n2130" class="b" transform="translate(871 1224)"><use href="#r"/><text class="l" x="42" y="-31">2130</text><text class="t" y="-13">PREPARE<tspan x="0" dy="12">PROJECT</tspan><tspan x="0" dy="12">PURPOSE</tspan><tspan x="0" dy="12">AND NEED</tspan></text></g>
<g id="n213M" class="b" transform="translate(871 1295)"><use href="#m"/><text class="l" x="42" y="-31">213M</text><text class="t" y="-13">REG.AGENCIES<tspan x="0" dy="12">CONCURRENCE</tspan><tspan x="0" dy="12">W/PURPOSE</tspan><tspan x="0" dy="12">AND NEED</tspan></text></g>
<g id="n2140" class="b" transform="translate(985 1224)"><use href="#r"/><text class="l" x="42" y="-31">2140</text><text class="t" y="-7">DEVEL &amp; REVIEW<tspan x="0" dy="12">ILLUSTRATIVE</tspan><tspan x="0" dy="12">ALTERNATIVES</tspan></text></g>
<g id="n2340" class="b" transform="translate(1113 1224)"><use href="#r"/><text class="l" x="42" y="-31">2340</text><text class="t" y="-7">DEV &amp; REVIEW<tspan x="0" dy="12">PRACTICAL</tspan><tspan x="0" dy="12">ALTERNATIVES</tspan></text></g>
<g id="n234M" class="b" transform="translate(1113 1295)"><use href="#m"/><text class="l" x="42" y="-31">234M</text><text class="t" y="-13">REG.AGENCIES<tspan x="0" dy="12">CONCURRENCE</tspan><tspan x="0" dy="12">W/ALT</tspan><tspan x="0" dy="12">FOR STUDY</tspan></text></g>
<g id="n251M" class="b" transform="translate(1278 1126)"><use href="#m"/><text class="l" x="42" y="-31">251M</text><text class="t" y="-7">DEPT APPROVAL<tspan x="0" dy="12">OF RECOMMENDED</tspan><tspan x="0" dy="12">ALTERNATIVES</tspan></text></g>
<g id="n2510" class="b" transform="translate(1278 1224)"><use href="#r"/><text class="l" x="42" y="-31">2510</text><text class="t" y="-13">DETERMINE<tspan x="0" dy="12">&amp; REVIEW</tspan><tspan x="0" dy="12">RECOMMENDED</tspan><tspan x="0" dy="12">ALTERNATIVES</tspan></text></g>
<g id="n250M" class="b" transform="translate(1278 1322)"><use href="#m"/><text class="l" x="42" y="-31">250M</text><text class="t" y="-13">REG.AGENCIES<tspan x="0" dy="12">CONCURRENCE</tspan><tspan x="0" dy="12">W/RECOM</tspan><tspan x="0" dy="12">ALTERNATIVES</tspan></text></g>
<g id="n2525" class="b" transform="translate(1407 1224)"><use href="#r"/><text class="l" x="42" y="-31">2525</text><text class="t" y="-13">PREPARE<tspan x="0" dy="12">&amp; REVIEW</tspan><tspan x="0" dy="12">ENGINEERING</tspan><tspan x="0" dy="12">REPORT</tspan></text></g>
<g id="n3710" class="b" transform="translate(856 1519)"><use href="#r"/><text class="l" x="42" y="-31">3710</text><text class="t" y="-7">DEVELOP<tspan x="0" dy="12">REQUIRED</tspan><tspan x="0" dy="12">MITIGATION</tspan></text></g>
<g id="n2160" class="b" transform="translate(727 1617)"><use href="#r"/><text class="l" x="42" y="-31">2160</text><text class="t" y="-13">PREPARE<tspan x="0" dy="12">&amp; REVIEW</tspan><tspan x="0" dy="12">EIS SCOPING</tspan><tspan x="0" dy="12">DOCUMENT</tspan></text></g>
<g id="n216M" class="b" transform="translate(727 1715)"><use href="#m"/><use href="#g"/><text class="g" x="30.500" y="-31">216M</text><text class="t" y="-7">PUBLIC INFO<tspan x="0" dy="12">MEETING FOR</tspan><tspan x="0" dy="12">EIS</tspan></text></g>
<g id="n2370" class="b" transform="translate(856 1617)"><use href="#r"/><text class="l" x="42" y="-31">2370</text><text class="t" y="-7">PREPARE<tspan x="0" dy="12">&amp; REVIEW</tspan><tspan x="0" dy="12">DEIS</tspan></text></g>
<g id="n237M" class="b" transform="translate(856 1715)"><use href="#m"/><text class="l" x="42" y="-31">237M</text><text class="t" y="-13">APPROVAL<tspan x="0" dy="12">OF DRAFT</tspan><tspan x="0" dy="12">EIS BY</tspan><tspan x="0" dy="12">FHWA</tspan></text></g>
<g id="n2390" class="b" transform="translate(985 1617)"><use href="#r"/><text class="l" x="42" y="-31">2390</text><text class="t" y="-1">DISTRIBUTE<tspan x="0" dy="12">DEIS</tspan></text></g>
<g id="n239M" class="b" transform="translate(985 1715)"><use href="#m"/><text class="l" x="42" y="-31">239M</text><text class="t" y="-13">PUBLIC<tspan x="0" dy="12">HEARING</tspan><tspan x="0" dy="12">FOR</tspan><tspan x="0" dy="12">DEIS</tspan></text></g>
<g id="n2540" class="b" transform="translate(1149 1617)"><use href="#r"/><text class="l" x="42" y="-31">2540</text><text class="t" y="-7">PREPARE<tspan x="0" dy="12">&amp; REVIEW</tspan><tspan x="0" dy="12">FEIS</tspan></text></g>
<g id="n254M" class="b" transform="translate(1149 1715)"><use href="#m"/><text class="l" x="42" y="-31">254M</text><text class="t" y="-7">APPROVAL<tspan x="0" dy="12">OF FEIS</tspan><tspan x="0" dy="12">BY FHWA</tspan></text></g>
<g id="n2550" class="b" transform="translate(1278 1617)"><use href="#r"/><text class="l" x="42" y="-31">2550</text><text class="t" y="-1">OBTAIN<tspan x="0" dy="12">ROD</tspan></text></g>
<g id="n255M" class="b" transform="translate(1278 1715)"><use href="#m"/><text class="l" x="42" y="-31">255M</text><text class="t" y="-1">ROD ISSUED<tspan x="0" dy="12">BY FHWA</tspan></text></g>
<g id="n2560" class="b" transform="translate(1407 1617)"><use href="#r"/><text class="l" x="42" y="-31">2560</text><text class="t" y="-13">OBTAIN<tspan x="0" dy="12">PRELIMINARY</tspan><tspan x="0" dy="12">ENGINEERING</tspan><tspan x="0" dy="12">AUTHORIZATION</tspan></text></g>
<g id="n2810" class="b" transform="translate(856 1814)"><use href="#r"/><text class="l" x="42" y="-31">2810</text><text class="t" y="-13">CONDUCT<tspan x="0" dy="12">INITIAL</tspan><tspan x="0" dy="12">SITE</tspan><tspan x="0" dy="12">ASSESSMENT</tspan></text></g>
<g id="n2820" class="b" transform="translate(1020 1814)"><use href="#r"/><text class="l" x="42" y="-31">2820</text><text class="t" y="-13">CONDUCT<tspan x="0" dy="12">PRELIMINARY</tspan><tspan x="0" dy="12">SITE</tspan><tspan x="0" dy="12">INVESTIGATION</tspan></text></g>
<g id="n3160" class="b" transform="translate(1407 1814)"><use href="#r"/><text class="l" x="42" y="-31">3160</text><text class="t" y="-13">OBTAIN<tspan x="0" dy="12">DESIGN</tspan><tspan x="0" dy="12">SURVEY</tspan><tspan x="0" dy="12">CONSULTANT</tspan></text></g>
<g id="n2330" class="b" transform="translate(1020 1912)"><use href="#r"/><text class="l" x="42" y="-31">2330</text><text class="t" y="-13">COLLECT<tspan x="0" dy="12">EPE</tspan><tspan x="0" dy="12">GEOTECHNICAL</tspan><tspan x="0" dy="12">DATA</tspan></text></g>

<g id="n4115" class="p w" transform="translate(1664 340)"><use href="#r"/><text class="l" x="42" y="-31">4115</text><text class="t" y="-7">OBTAIN<tspan x="0" dy="12">ROW</tspan><tspan x="0" dy="12">CONSULTANT</tspan></text></g>
<g id="n411M" class="p w" transform="translate(1664 438)"><use href="#m"/><use href="#g"/><text class="g" x="30.500" y="-31">411M</text><text class="t" y="-7">OBTAIN<tspan x="0" dy="12">ROW</tspan><tspan x="0" dy="12">OBLIGATION</tspan></text></g>
<g id="n4120" class="p w" transform="translate(1793 438)"><use href="#r"/><text class="l" x="42" y="-31">4120</text><text class="t" y="-13">OBTAIN<tspan x="0" dy="12">PRELIMINARY</tspan><tspan x="0" dy="12">TITLE</tspan><tspan x="0" dy="12">COMMITMENTS</tspan></text></g>
<g id="n4130" class="p w" transform="translate(2051 438)"><use href="#r"/><text class="l" x="42" y="-31">4130</text><text class="t" y="-7">PREPARE<tspan x="0" dy="12">MARKED FINAL</tspan><tspan x="0" dy="12">ROW PLANS</tspan></text></g>
<g id="n413M" class="p w" transform="translate(2051 536)"><use href="#m"/><text class="l" x="42" y="-31">413M</text><text class="t" y="-13">APPROVED<tspan x="0" dy="12">MARKED</tspan><tspan x="0" dy="12">FINAL</tspan><tspan x="0" dy="12">ROW PLANS</tspan></text></g>
<g id="n441M" class="p w" transform="translate(2180 45)"><use href="#m"/><text class="l" x="42" y="-31">441M</text><text class="t" y="-7">POST<tspan x="0" dy="12">DECISION</tspan><tspan x="0" dy="12">MEETING</tspan></text></g>
<g id="n4411" class="p w" transform="translate(2180 143)"><use href="#r"/><text class="l" x="42" y="-31">4411</text><text class="t" y="-1">PRELIMINARY<tspan x="0" dy="12">INTERVIEWS</tspan></text></g>
<g id="n4510" class="p w" transform="translate(2308 143)"><use href="#r"/><text class="l" x="42" y="-31">4510</text><text class="t" y="-13">CONDUCT<tspan x="0" dy="12">ROW</tspan><tspan x="0" dy="12">SURVEY</tspan><tspan x="0" dy="12">AND STAKING</tspan></text></g>
<g id="n4412" class="p w" transform="translate(2180 241)"><use href="#r"/><text class="l" x="42" y="-31">4412</text><text class="t" y="-13">APPRAISAL<tspan x="0" dy="12">ASSIGNMENT</tspan><tspan x="0" dy="12">PROPOSAL &amp;</tspan><tspan x="0" dy="12">FEE ESTIMATE</tspan></text></g>
<g id="n4420" class="p w" transform="translate(2308 241)"><use href="#r"/><text class="l" x="42" y="-31">4420</text><text class="t" y="-7">APPRAISAL<tspan x="0" dy="12">REVIEW</tspan><tspan x="0" dy="12">REPORTS</tspan></text></g>
<g id="n4413" class="p w" transform="translate(2180 340)"><use href="#r"/><text class="l" x="42" y="-31">4413</text><text class="t" y="5">APPRAISALS</text></g>
<g id="n4430" class="p w" transform="translate(2308 340)"><use href="#r"/><text class="l" x="42" y="-31">4430</text><text class="t" y="-7">ACQUIRE<tspan x="0" dy="12">ROW</tspan><tspan x="0" dy="12">PARCELS</tspan></text></g>
<g id="n442M" class="p w" transform="translate(2566 340)"><use href="#m"/><text class="l" x="42" y="-31">442M</text><text class="t" y="-1">ROW<tspan x="0" dy="12">CERTIFICATION</tspan></text></g>
<g id="n4140" class="p w" transform="translate(2180 438)"><use href="#r"/><text class="l" x="42" y="-31">4140</text><text class="t" y="-13">PREPARE<tspan x="0" dy="12">PROPERTY</tspan><tspan x="0" dy="12">LEGAL</tspan><tspan x="0" dy="12">INSTRUMENTS</tspan></text></g>
<g id="n4710" class="p w" transform="translate(2308 438)"><use href="#r"/><text class="l" x="42" y="-31">4710</text><text class="t" y="-7">PREPARE<tspan x="0" dy="12">RELOCATION</tspan><tspan x="0" dy="12">ASSISTANCE</tspan></text></g>
<g id="n4720" class="p w" transform="translate(2437 536)"><use href="#r"/><text class="l" x="42" y="-31">4720</text><text class="t" y="-13">PREPARE<tspan x="0" dy="12">IMPROVEMENT</tspan><tspan x="0" dy="12">REMOVAL</tspan><tspan x="0" dy="12">PLAN</tspan></text></g>
<g id="n331M" class="p w" transform="translate(1664 1126)"><use href="#m"/><text class="l" x="42" y="-31">331M</text><text class="t" y="-13">PRELIMINARY<tspan x="0" dy="12">ROW</tspan><tspan x="0" dy="12">PLANS</tspan><tspan x="0" dy="12">DISTRIBUTED</tspan></text></g>
<g id="n351M" class="p w" transform="translate(1922 1126)"><use href="#m"/><text class="l" x="42" y="-31">351M</text><text class="t" y="-13">FINAL<tspan x="0" dy="12">ROW</tspan><tspan x="0" dy="12">PLANS</tspan><tspan x="0" dy="12">DISTRIBUTED</tspan></text></g>
<g id="n3361" class="p w" transform="translate(1664 1224)"><use href="#r"/><text class="l" x="42" y="-31">3361</text><text class="t" y="-13">REVIEW &amp;<tspan x="0" dy="12">SUBMIT</tspan><tspan x="0" dy="12">PRELIMINARY</tspan><tspan x="0" dy="12">ROW PLANS</tspan></text></g>
<g id="n3581" class="p w" transform="translate(1922 1224)"><use href="#r"/><text class="l" x="42" y="-31">3581</text><text class="t" y="-13">REVIEW<tspan x="0" dy="12">&amp; SUBMIT</tspan><tspan x="0" dy="12">FINAL</tspan><tspan x="0" dy="12">ROW PLANS</tspan></text></g>

<g id="n357M" class="f" transform="translate(1664 587)"><use href="#m"/><text class="l" x="42" y="-31">357M</text><text class="t" y="-7">FHWA<tspan x="0" dy="12">CONCURRANCE</tspan><tspan x="0" dy="12">OF STR STUDY</tspan></text></g>
<g id="n337M" class="f" transform="translate(1664 662)"><use href="#m"/><text class="l" x="42" y="-31">337M</text><text class="t" y="-7">SUBMIT<tspan x="0" dy="12">STR STUDY</tspan><tspan x="0" dy="12">TO FHWA</tspan></text></g>
<g id="n3340" class="f" transform="translate(1536 733)"><use href="#r"/><text class="l" x="42" y="-31">3340</text><text class="t" y="-7">CONDUCT<tspan x="0" dy="12">STRUCTURE</tspan><tspan x="0" dy="12">SURVEY</tspan></text></g>
<g id="n3370" class="f" transform="translate(1664 733)"><use href="#r"/><text class="l" x="42" y="-31">3370</text><text class="t" y="-7">PREPARE<tspan x="0" dy="12">STRUCTURE</tspan><tspan x="0" dy="12">STUDY</tspan></text></g>
<g id="n3535" class="f" transform="translate(1793 634)"><use href="#r"/><text class="l" x="42" y="-31">3535</text><text class="t" y="-13">STRUCTURE<tspan x="0" dy="12">ARCHITECHURAL</tspan><tspan x="0" dy="12">&amp; AESTHETIC</tspan><tspan x="0" dy="12">REVIEW</tspan></text></g>
<g id="n3570" class="f" transform="translate(1922 733)"><use href="#r"/><text class="l" x="42" y="-31">3570</text><text class="t" y="-13">PREPARE<tspan x="0" dy="12">PRELIMINARY</tspan><tspan x="0" dy="12">STRUCTURE</tspan><tspan x="0" dy="12">PLANS</tspan></text></g>
<g id="n3850" class="f" transform="translate(2180 634)"><use href="#r"/><text class="l" x="42" y="-31">3850</text><text class="t" y="-13">DEVELOP<tspan x="0" dy="12">STRUCTURE</tspan><tspan x="0" dy="12">FINAL</tspan><tspan x="0" dy="12">PLANS &amp; SPECS</tspan></text></g>
<g id="n3350" class="f" transform="translate(1536 831)"><use href="#r"/><text class="l" x="42" y="-31">3350</text><text class="t" y="-7">CONDUCT<tspan x="0" dy="12">HYDRAULICS</tspan><tspan x="0" dy="12">SURVEY</tspan></text></g>
<g id="n3522" class="f" transform="translate(1664 831)"><use href="#r"/><text class="l" x="42" y="-31">3522</text><text class="t" y="-13">DRAIN STUDY,<tspan x="0" dy="12">STORM SEWER</tspan><tspan x="0" dy="12">DESIGN &amp;</tspan><tspan x="0" dy="12">BEST PRACTICES</tspan></text></g>
<g id="n3520" class="f" transform="translate(1536 929)"><use href="#r"/><text class="l" x="42" y="-31">3520</text><text class="t" y="-13">STRUCTURE<tspan x="0" dy="12">AND SCOUR</tspan><tspan x="0" dy="12">HYDRO</tspan><tspan x="0" dy="12">ANALYSIS</tspan></text></g>
<g id="n3530" class="f" transform="translate(1536 1028)"><use href="#r"/><text class="l" x="42" y="-31">3530</text><text class="t" y="-13">CONDUCT<tspan x="0" dy="12">STRUCTURE</tspan><tspan x="0" dy="12">FOUNDATION</tspan><tspan x="0" dy="12">INVESTIGATION</tspan></text></g>
<g id="n3385" class="f" transform="translate(1664 1028)"><use href="#r"/><text class="l" x="42" y="-31">3385</text><text class="t" y="-7">PRELIMINARY<tspan x="0" dy="12">LOAD</tspan><tspan x="0" dy="12">RATING</tspan></text></g>
<g id="n3875" class="f" transform="translate(2695 1028)"><use href="#r"/><text class="l" x="42" y="-31">3875</text><text class="t" y="-7">FINAL<tspan x="0" dy="12">LOAD</tspan><tspan x="0" dy="12">RATING</tspan></text></g>

<g id="n3860" class="y" transform="translate(2180 733)"><use href="#r"/><text class="l" x="42" y="-31">3860</text><text class="t" y="-7">FINAL<tspan x="0" dy="12">CONSTRUCTABLE</tspan><tspan x="0" dy="12">REVIEW</tspan></text></g>
<g id="n3565" class="y" transform="translate(1922 831)"><use href="#r"/><text class="l" x="42" y="-31">3565</text><text class="t" y="-7">PRELIMINARY<tspan x="0" dy="12">CONSTRUCTABLE</tspan><tspan x="0" dy="12">REVIEW</tspan></text></g>
<g id="n3140" class="y" transform="translate(1536 1126)"><use href="#r"/><text class="l" x="42" y="-31">3140</text><text class="t" y="-7">OBTAIN<tspan x="0" dy="12">DESIGN</tspan><tspan x="0" dy="12">CONSULTANT</tspan></text></g>
<g id="n312M" class="y" transform="translate(1536 1224)"><use href="#m"/><text class="l" x="42" y="-31">312M</text><text class="t" y="-13">DEPARTMENT<tspan x="0" dy="12">CONCURRANCE</tspan><tspan x="0" dy="12">OF DESIGN</tspan><tspan x="0" dy="12">SCOPE</tspan></text></g>
<g id="n3330" class="y" transform="translate(1536 1617)"><use href="#r"/><text class="l" x="42" y="-31">3330</text><text class="t" y="-7">CONDUCT<tspan x="0" dy="12">DESIGN</tspan><tspan x="0" dy="12">SURVEY</tspan></text></g>
<g id="n3375" class="y" transform="translate(1793 1519)"><use href="#r"/><text class="l" x="42" y="-31">3375</text><text class="t" y="-13">CONDUCT<tspan x="0" dy="12">VALUE</tspan><tspan x="0" dy="12">ENGINEERING</tspan><tspan x="0" dy="12">STUDY</tspan></text></g>
<g id="n3505" class="y" transform="translate(1793 1617)"><use href="#r"/><text class="l" x="42" y="-31">3505</text><text class="t" y="-7">PRELIMINARY<tspan x="0" dy="12">PAV'T DESIGN</tspan><tspan x="0" dy="12">AND SELECTION</tspan></text></g>
<g id="n3510" class="y" transform="translate(1922 1617)"><use href="#r"/><text class="l" x="42" y="-31">3510</text><text class="t" y="-13">PERFORM<tspan x="0" dy="12">ROADWAY</tspan><tspan x="0" dy="12">GEOTECHNICAL</tspan><tspan x="0" dy="12">INVESTIGATION</tspan></text></g>
<g id="n3672" class="y" transform="translate(2051 1715)"><use href="#r"/><text class="l" x="42" y="-31">3672</text><text class="t" y="-13">DEVELOP<tspan x="0" dy="12">SPECIAL</tspan><tspan x="0" dy="12">DRAINAGE</tspan><tspan x="0" dy="12">STR PLANS</tspan></text></g>
<g id="n3880" class="y" transform="translate(2566 1420)"><use href="#r"/><text class="l" x="42" y="-31">3880</text><text class="t" y="-7">CPM QUALITY<tspan x="0" dy="12">ASSURANCE</tspan><tspan x="0" dy="12">REVIEW</tspan></text></g>
<g id="n391M" class="y" transform="translate(2824 1224)"><use href="#m"/><text class="l" x="42" y="-31">391M</text><text class="t" y="-1">CERTIFICATION<tspan x="0" dy="12">ACCEPTANCE</tspan></text></g>
<g id="n3910" class="y" transform="translate(2824 1322)"><use href="#r"/><text class="l" x="42" y="-31">3910</text><text class="t" y="-13">PREPARE FINAL<tspan x="0" dy="12">JOB PACKAGE</tspan><tspan x="0" dy="12">AND OBTAIN</tspan><tspan x="0" dy="12">AUTHORIZATION</tspan></text></g>
<g id="n392M" class="y" transform="translate(2952 1224)"><use href="#m"/><text class="l" x="42" y="-31">392M</text><text class="t" y="-1">JOB<tspan x="0" dy="12">LETTING</tspan></text></g>
<g id="n3920" class="y" transform="translate(2952 1322)"><use href="#r"/><text class="l" x="42" y="-31">3920</text><text class="t" y="-7">ADVERTISE<tspan x="0" dy="12">AND LET</tspan><tspan x="0" dy="12">JOB</tspan></text></g>
<g id="n393M" class="y" transform="translate(3081 1224)"><use href="#m"/><text class="l" x="42" y="-31">393M</text><text class="t" y="-1">JOB<tspan x="0" dy="12">AWARD</tspan></text></g>
<g id="n3930" class="y" transform="translate(3081 1322)"><use href="#r"/><text class="l" x="42" y="-31">3930</text><text class="t" y="-13">AWARD<tspan x="0" dy="12">JOB</tspan><tspan x="0" dy="12">CONSTRUCTION</tspan><tspan x="0" dy="12">CONTRACT</tspan></text></g>

<g id="n3830" class="o" transform="translate(2180 831)"><use href="#r"/><text class="l" x="42" y="-31">3830</text><text class="t" y="-13">COMPLETE<tspan x="0" dy="12">MAINTAINING</tspan><tspan x="0" dy="12">TRAFFIC</tspan><tspan x="0" dy="12">PLAN</tspan></text></g>
<g id="n3540" class="o" transform="translate(1922 929)"><use href="#r"/><text class="l" x="42" y="-31">3540</text><text class="t" y="-13">DEVELOP<tspan x="0" dy="12">MAINTAINING</tspan><tspan x="0" dy="12">TRAFFIC</tspan><tspan x="0" dy="12">PLAN</tspan></text></g>
<g id="n3825" class="o" transform="translate(2051 929)"><use href="#r"/><text class="l" x="42" y="-31">3825</text><text class="t" y="-13">PREPARE<tspan x="0" dy="12">&amp; REVIEW</tspan><tspan x="0" dy="12">FINAL SIGNAL</tspan><tspan x="0" dy="12">OPERATIONS</tspan></text></g>
<g id="n382X" class="o" transform="translate(2180 929)"><use href="#r"/><text class="l" x="40" y="-31">382X-FINAL</text><text class="t tl" x="-43" y="-13">1-SIG DESIGN<tspan x="-43" dy="12">2-PAV'T MARK</tspan><tspan x="-43" dy="12">3-NON-FWY SIGN</tspan><tspan x="-43" dy="12">4-FWY SIGNING</tspan></text></g>
<g id="n3555" class="o" transform="translate(1793 1028)"><use href="#r"/><text class="l" x="42" y="-31">3555</text><text class="t" y="-13">PREPARE/REVIEW<tspan x="0" dy="12">PRELIM</tspan><tspan x="0" dy="12">TRAFFIC SIGNAL</tspan><tspan x="0" dy="12">OPERATIONS</tspan></text></g>
<g id="n355X" class="o" transform="translate(1922 1028)"><use href="#r"/><text class="l" x="46" y="-31">355X-PRELIMINARY</text><text class="t tl" x="-43" y="-13">1-SIG DESIGN<tspan x="-43" dy="12">2-PAV'T MARK</tspan><tspan x="-43" dy="12">3-NON-FWY SIGN</tspan><tspan x="-43" dy="12">4-FWY SIGNING</tspan></text></g>
<g id="n3560" class="o" transform="translate(1793 1420)"><use href="#r"/><text class="l" x="42" y="-31">3560</text><text class="t" y="-13">PRELIMINARY<tspan x="0" dy="12">GEOMETRICS &amp;</tspan><tspan x="0" dy="12">ROADSIDE</tspan><tspan x="0" dy="12">SAFETY</tspan></text></g>
<g id="n3500" class="o" transform="translate(1922 1385.500)"><rect class="d" x="-47.500" y="-27.500" width="95" height="55"/><rect x="25" y="28.500" width="28.500" height="13" fill="#fff" stroke="#111" stroke-width="1.5"/><text class="g" x="39.300" y="39.500">3500</text><text class="t" y="-13">DEVELOP<tspan x="0" dy="12">TRANSPORTATION</tspan><tspan x="0" dy="12">MANAGEMENT</tspan><tspan x="0" dy="12">PLAN</tspan></text></g>
<g id="n3810" class="o" transform="translate(2180 1420)"><use href="#r"/><text class="l" x="42" y="-31">3810</text><text class="t" y="-13">FINAL<tspan x="0" dy="12">GEOMETRICS</tspan><tspan x="0" dy="12">&amp; ROADSIDE</tspan><tspan x="0" dy="12">SAFETY</tspan></text></g>
<g id="n3800" class="o" transform="translate(2180 1496)"><rect class="d" x="-47" y="-27.500" width="94" height="55"/><use href="#g"/><text class="g" x="30.500" y="-31">3800</text><text class="t" x="2" y="-7">SAFETY AND<tspan x="2" dy="12">MOBILITY PEER</tspan><tspan x="2" dy="12">TEAM REVIEW</tspan></text></g>
<g id="n3390" class="o w" transform="translate(1664 1519)"><use href="#r"/><text class="l" x="42" y="-31">3390</text><text class="t" y="-13">DEVELOP<tspan x="0" dy="12">MAINTAINING</tspan><tspan x="0" dy="12">TRAFFIC</tspan><tspan x="0" dy="12">CONCEPTS</tspan></text></g>

<g id="n360M" class="r w" transform="translate(2180 1028)"><use href="#m"/><text class="l" x="42" y="-31">360M</text><text class="t" y="-13">UTILITY PLAN<tspan x="0" dy="12">DISTRIBUTION</tspan><tspan x="0" dy="12">FOR CONFLICT</tspan><tspan x="0" dy="12">RESOLUTION</tspan></text></g>
<g id="n3610" class="r w" transform="translate(1793 1126)"><use href="#r"/><text class="l" x="42" y="-31">3610</text><text class="t" y="-7">COMPILE<tspan x="0" dy="12">UTILITY</tspan><tspan x="0" dy="12">INFORMATION</tspan></text></g>
<g id="n3660" class="r w" transform="translate(2180 1126)"><use href="#r"/><text class="l" x="42" y="-31">3660</text><text class="t" y="-7">RESOLVE<tspan x="0" dy="12">UTILITY</tspan><tspan x="0" dy="12">ISSUES</tspan></text></g>
<g id="n361M" class="r w" transform="translate(2180 1224)"><use href="#m"/><text class="l" x="42" y="-31">361M</text><text class="t" y="-1">UTILITY<tspan x="0" dy="12">MEETING</tspan></text></g>
<g id="n311M" class="r w" transform="translate(1664 1420)"><use href="#m"/><text class="l" x="42" y="-31">311M</text><text class="t" y="-1">UTILITY<tspan x="0" dy="12">NOTIFICATION</tspan></text></g>
<g id="n3670" class="r w" transform="translate(2051 1519)"><use href="#r"/><text class="l" x="42" y="-31">3670</text><text class="t" y="-13">DEVELOP<tspan x="0" dy="12">MUNICIPAL</tspan><tspan x="0" dy="12">UTILITY</tspan><tspan x="0" dy="12">PLAN</tspan></text></g>
<g id="n3675" class="r w" transform="translate(2051 1617)"><use href="#r"/><text class="l" x="42" y="-31">3675</text><text class="t" y="-7">DEVELOP<tspan x="0" dy="12">ELECTRICAL</tspan><tspan x="0" dy="12">PLANS</tspan></text></g>

<g id="n3150" class="e w" transform="translate(1664 1617)"><use href="#r"/><text class="l" x="42" y="-31">3150</text><text class="t" y="-7">CE<tspan x="0" dy="12">ENVIRONMENTAL</tspan><tspan x="0" dy="12">CLASSIFICATION</tspan></text></g>
<g id="n3650" class="e w" transform="translate(1664 1715)"><use href="#r"/><text class="l" x="42" y="-31">3650</text><text class="t" y="-13">COORDINATE<tspan x="0" dy="12">RR INVOLVEMENT</tspan><tspan x="0" dy="12">GRADE</tspan><tspan x="0" dy="12">SEPARATIONS</tspan></text></g>
<g id="n3655" class="e w" transform="translate(1664 1814)"><use href="#r"/><text class="l" x="42" y="-31">3655</text><text class="t" y="-13">COORDINATE<tspan x="0" dy="12">RR INVOLVEMENT</tspan><tspan x="0" dy="12">AT-GRADE</tspan><tspan x="0" dy="12">CROSSINGS</tspan></text></g>
<g id="n3155" class="e w" transform="translate(2051 1814)"><use href="#r"/><text class="l" x="42" y="-31">3155</text><text class="t" y="-7">CE<tspan x="0" dy="12">ENVIRONMENTAL</tspan><tspan x="0" dy="12">CERTIFICATION</tspan></text></g>
<g id="n3720" class="e w" transform="translate(1793 1912)"><use href="#r"/><text class="l" x="42" y="-31">3720</text><text class="t" y="-13">ASSEMBLE<tspan x="0" dy="12">ENV. PERMIT</tspan><tspan x="0" dy="12">APPLICATION</tspan><tspan x="0" dy="12">INFORMATION</tspan></text></g>
<g id="n3730" class="e w" transform="translate(1793 2010)"><use href="#r"/><text class="l" x="42" y="-31">3730</text><text class="t" y="-7">OBTAIN<tspan x="0" dy="12">ENVIRONMENTAL</tspan><tspan x="0" dy="12">PERMITS</tspan></text></g>
<g id="n3630" class="e w" transform="translate(2051 2010)"><use href="#r"/><text class="l" x="42" y="-31">3630</text><text class="t" y="-13">PREPARE/PROCESS<tspan x="0" dy="12">PART. &amp; SPECIAL</tspan><tspan x="0" dy="12">OPERATIONAL</tspan><tspan x="0" dy="12">AGREEMENTS</tspan></text></g>

<g id="n332M" class="k" transform="translate(1793 1224)"><use href="#m"/><text class="l" x="42" y="-31">332M</text><text class="t" y="-7">BASE<tspan x="0" dy="12">PLAN</tspan><tspan x="0" dy="12">REVIEW</tspan></text></g>
<g id="n352M" class="k" transform="translate(2051 1224)"><use href="#m"/><text class="l" x="42" y="-31">352M</text><text class="t" y="-7">THE<tspan x="0" dy="12">PLAN</tspan><tspan x="0" dy="12">REVIEW</tspan></text></g>
<g id="n3130" class="k" transform="translate(1536 1322)"><use href="#r"/><text class="l" x="42" y="-31">3130</text><text class="t" y="-13">VERIFY<tspan x="0" dy="12">DESIGN</tspan><tspan x="0" dy="12">SCOPE OF WORK</tspan><tspan x="0" dy="12">AND COST</tspan></text></g>
<g id="n3360" class="k" transform="translate(1664 1322)"><use href="#r"/><text class="l" x="42" y="-31">3360</text><text class="t" y="-7">PREPARE<tspan x="0" dy="12">BASE</tspan><tspan x="0" dy="12">PLANS</tspan></text></g>
<g id="n3380" class="k" transform="translate(1793 1322)"><use href="#r"/><text class="l" x="42" y="-31">3380</text><text class="t" y="-7">REVIEW<tspan x="0" dy="12">BASE</tspan><tspan x="0" dy="12">PLANS</tspan></text></g>
<g id="n3580" class="k" transform="translate(1922 1322)"><use href="#r"/><text class="l" x="42" y="-31">3580</text><text class="t" y="-7">DEVELOP<tspan x="0" dy="12">PRELIMINARY</tspan><tspan x="0" dy="12">PLANS</tspan></text></g>
<g id="n3590" class="k" transform="translate(2051 1322)"><use href="#r"/><text class="l" x="42" y="-31">3590</text><text class="t" y="-7">REVIEW<tspan x="0" dy="12">PRELIMINARY</tspan><tspan x="0" dy="12">PLANS</tspan></text></g>
<g id="n3840" class="k" transform="translate(2180 1322)"><use href="#r"/><text class="l" x="42" y="-31">3840</text><text class="t" y="-7">DEVELOP<tspan x="0" dy="12">ROAD FINAL</tspan><tspan x="0" dy="12">PLANS &amp; SPECS</tspan></text></g>
<g id="n3865" class="k" transform="translate(2308 1322)"><use href="#r"/><text class="l" x="42" y="-31">3865</text><text class="t" y="-13">PROJECT PLAN<tspan x="0" dy="12">QUALITY</tspan><tspan x="0" dy="12">ASSURANCE</tspan><tspan x="0" dy="12">REVIEW</tspan></text></g>
<g id="n380M" class="k" transform="translate(2437 1322)"><use href="#m"/><text class="l" x="42" y="-31">380M</text><text class="t" y="-1">PLAN<tspan x="0" dy="12">COMPLETION</tspan></text></g>
<g id="n387M" class="k" transform="translate(2566 1224)"><use href="#m"/><text class="l" x="42" y="-31">387M</text><text class="t" y="-1">OEC<tspan x="0" dy="12">MEETING</tspan></text></g>
<g id="n3870" class="k" transform="translate(2566 1322)"><use href="#r"/><text class="l" x="42" y="-31">3870</text><text class="t" y="-13">OMISSIONS &amp;<tspan x="0" dy="12">ERRORS</tspan><tspan x="0" dy="12">CHECK</tspan><tspan x="0" dy="12">PLAN REVIEW</tspan></text></g>
<g id="n389M" class="k" transform="translate(2695 1322)"><use href="#m"/><text class="l" x="42" y="-31">389M</text><text class="t" y="5">PLAN TURN-IN</text></g>
<g id="start"><ellipse cx="27" cy="1027" rx="26" ry="27" fill="#fff" stroke="#222" stroke-width="1.2"/><text x="10" y="1031" font-size="13" textLength="29" lengthAdjust="spacingAndGlyphs">START</text></g>
<g id="finish"><ellipse cx="3172" cy="1322" rx="26" ry="27" fill="#fff" stroke="#222" stroke-width="1.2"/><text x="3152" y="1326" font-size="13" textLength="37" lengthAdjust="spacingAndGlyphs">FINISH</text></g>
</g>
</svg>
